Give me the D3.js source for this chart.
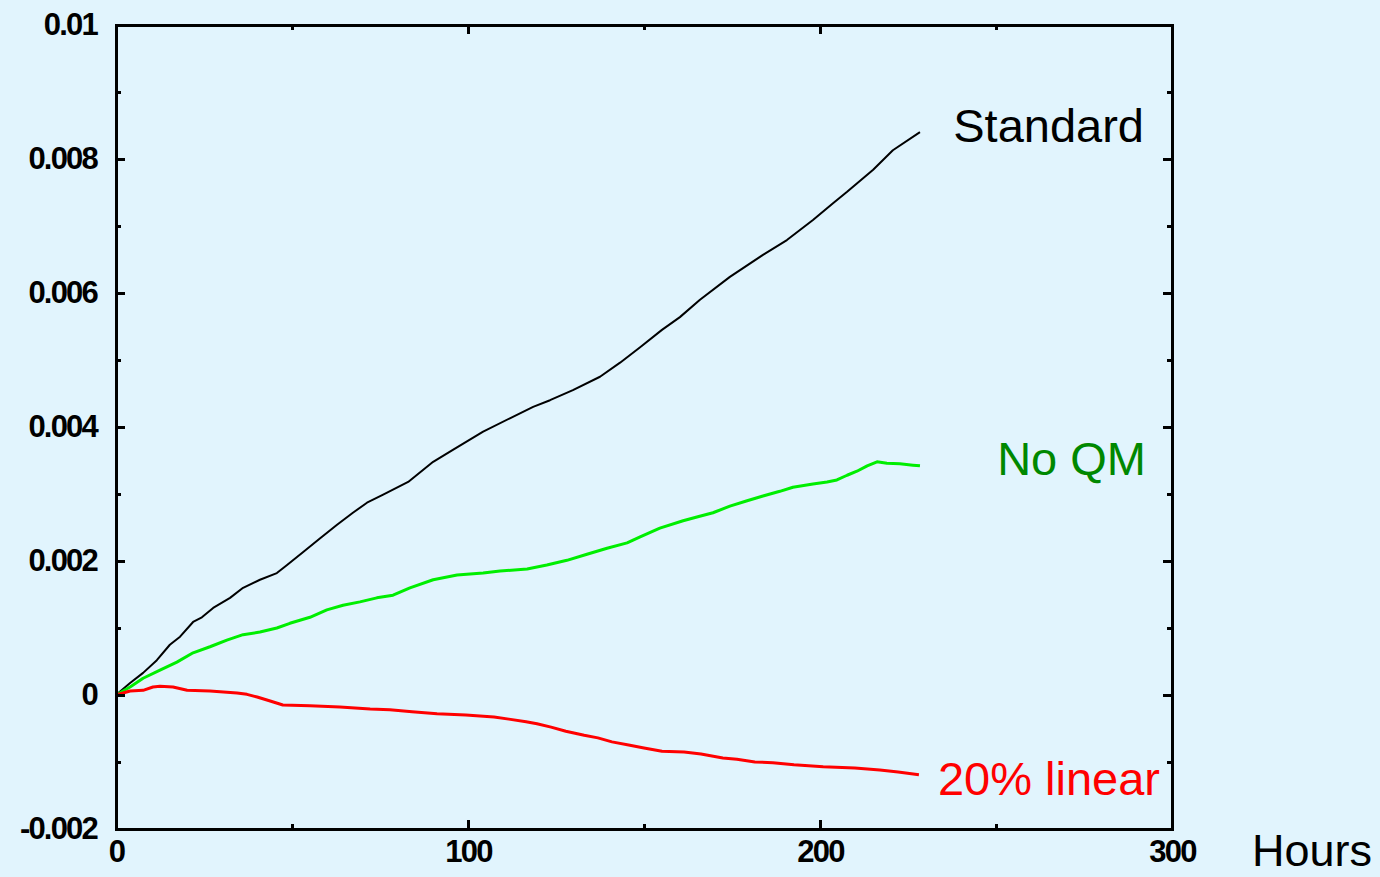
<!DOCTYPE html>
<html>
<head>
<meta charset="utf-8">
<script src="https://cdn.jsdelivr.net/npm/d3@7"></script>
<style>
  html, body { margin: 0; padding: 0; background: #e1f4fd; }
  svg { display: block; }
  .tick text { font-family: "Liberation Sans", Arial, sans-serif; font-weight: bold; font-size: 31px; letter-spacing: -1.8px; fill: #000; }
  .label { font-family: "Liberation Sans", Arial, sans-serif; font-size: 47px; }
</style>
</head>
<body>
<div id="chart"></div>
<script>
// x values (hours) and y values (x 0.001)
const standardHours  = [0, 4, 7.7, 11.6, 15.3, 18.2, 21.9, 24.4, 27.6, 32.4, 36.1, 40.9, 45.7, 48.6, 53.1, 58, 62.8, 67.3, 71.3, 75.9, 83, 90.1, 95.7, 104.3, 111.9, 118.5, 123.3, 129.8, 137.5, 143.2, 148.9, 155.1, 160.2, 165.9, 174.4, 183.8, 190.6, 198, 203.7, 207.7, 215.1, 220.7, 228.4];
const standardValues = [0, 0.18, 0.33, 0.52, 0.75, 0.87, 1.09, 1.16, 1.3, 1.45, 1.6, 1.72, 1.82, 1.94, 2.13, 2.34, 2.54, 2.72, 2.87, 2.99, 3.18, 3.48, 3.66, 3.93, 4.13, 4.3, 4.4, 4.55, 4.75, 4.96, 5.19, 5.45, 5.64, 5.9, 6.24, 6.57, 6.79, 7.09, 7.34, 7.51, 7.84, 8.13, 8.4];

const noQmHours  = [0, 4, 7.7, 12.5, 17.3, 21.9, 26.7, 31.5, 36.1, 40.9, 45.7, 49.4, 55.1, 59.9, 64.5, 69.3, 74.1, 78.7, 83.5, 90.1, 96.9, 104.3, 109.1, 116.8, 122.4, 128.1, 133.8, 139.5, 145.2, 148.9, 154.5, 161.1, 165.3, 169.6, 174.4, 179.3, 183.8, 188.6, 192.3, 198, 202, 204.8, 207.7, 210.5, 213.4, 216.2, 219, 222.7, 226.4, 228.4];
const noQmValues = [0, 0.12, 0.25, 0.37, 0.49, 0.63, 0.72, 0.82, 0.9, 0.94, 1.0, 1.07, 1.16, 1.27, 1.34, 1.39, 1.45, 1.49, 1.6, 1.72, 1.79, 1.82, 1.85, 1.88, 1.94, 2.01, 2.1, 2.19, 2.27, 2.36, 2.49, 2.6, 2.66, 2.72, 2.82, 2.9, 2.97, 3.04, 3.1, 3.15, 3.18, 3.21, 3.28, 3.34, 3.42, 3.48, 3.46, 3.45, 3.43, 3.42];

const linearHours  = [0, 4, 7.7, 10.5, 12.5, 16.2, 20.2, 26.7, 34.4, 37.2, 40.1, 43.8, 47.4, 55.1, 63.6, 72.2, 77.8, 84.1, 91.2, 99.4, 107.4, 111.6, 116.5, 119.6, 123.6, 127.8, 133, 136.9, 140.9, 146, 150, 155.1, 161.4, 166.2, 172.4, 176.4, 181.5, 186.6, 192.6, 200.9, 209.9, 217, 222.2, 228.1];
const linearValues = [0, 0.06, 0.07, 0.12, 0.13, 0.12, 0.07, 0.06, 0.03, 0.01, -0.03, -0.09, -0.15, -0.16, -0.18, -0.21, -0.22, -0.25, -0.28, -0.3, -0.33, -0.36, -0.4, -0.43, -0.48, -0.54, -0.6, -0.64, -0.7, -0.75, -0.79, -0.84, -0.85, -0.88, -0.94, -0.96, -1.0, -1.01, -1.04, -1.07, -1.09, -1.12, -1.15, -1.19];

const xTicks = [0, 100, 200, 300];
const xMinorTicks = [50, 150, 250];
const yTicks = [-0.002, 0, 0.002, 0.004, 0.006, 0.008, 0.01];
const yTickLabels = ["-0.002", "0", "0.002", "0.004", "0.006", "0.008", "0.01"];
const yMinorTicks = [-0.001, 0.001, 0.003, 0.005, 0.007, 0.009];

const series = [
  { name: "Standard",   hours: standardHours, values: standardValues, color: "#000000", width: 2, labelColor: "#000000", labelAt: 0.0085 },
  { name: "No QM",      hours: noQmHours,     values: noQmValues,     color: "#00ee00", width: 3, labelColor: "#008800", labelAt: 0.00353 },
  { name: "20% linear", hours: linearHours,   values: linearValues,   color: "#ff0000", width: 3, labelColor: "#ff0000", labelAt: -0.00124 }
];

const W = 1380, H = 877;
const margin = { top: 25, right: 208, bottom: 48, left: 116 };
const width = W - margin.left - margin.right;
const height = H - margin.top - margin.bottom;

const svg = d3.select("#chart").append("svg")
  .attr("width", W).attr("height", H);

const g = svg.append("g")
  .attr("transform", `translate(${margin.left},${margin.top})`);

const x = d3.scaleLinear().domain([0, 300]).range([0, width]);
const y = d3.scaleLinear().domain([-0.002, 0.01]).range([height, 0]);

// lines
const line = d3.line()
  .x(d => x(d[0]))
  .y(d => y(d[1] / 1000));

series.forEach(s => {
  const pts = s.hours.map((h, i) => [h, s.values[i]]);
  g.append("path")
    .datum(pts)
    .attr("fill", "none")
    .attr("stroke", s.color)
    .attr("stroke-width", s.width)
    .attr("stroke-linejoin", "round")
    .attr("d", line);
});

// axes, ticks point inward on every side
function styleAxis(sel) {
  sel.select(".domain").remove();
  sel.selectAll(".tick line").attr("stroke", "#000").attr("stroke-width", 2.5).attr("shape-rendering", "crispEdges");
}

g.append("g")
  .attr("transform", `translate(0,${height})`)
  .call(d3.axisBottom(x).tickValues(xTicks).tickSize(-9).tickPadding(11).tickFormat(d3.format("d")))
  .call(styleAxis);
g.append("g")
  .attr("transform", `translate(0,${height})`)
  .call(d3.axisBottom(x).tickValues(xMinorTicks).tickSize(-5).tickFormat(""))
  .call(styleAxis);
g.append("g")
  .call(d3.axisTop(x).tickValues(xTicks).tickSize(-9).tickFormat(""))
  .call(styleAxis);
g.append("g")
  .call(d3.axisTop(x).tickValues(xMinorTicks).tickSize(-5).tickFormat(""))
  .call(styleAxis);

g.append("g")
  .call(d3.axisLeft(y).tickValues(yTicks).tickSize(-9).tickPadding(19)
    .tickFormat((d, i) => yTickLabels[i]))
  .call(styleAxis);
g.append("g")
  .call(d3.axisLeft(y).tickValues(yMinorTicks).tickSize(-5).tickFormat(""))
  .call(styleAxis);
g.append("g")
  .attr("transform", `translate(${width},0)`)
  .call(d3.axisRight(y).tickValues(yTicks).tickSize(-9).tickFormat(""))
  .call(styleAxis);
g.append("g")
  .attr("transform", `translate(${width},0)`)
  .call(d3.axisRight(y).tickValues(yMinorTicks).tickSize(-5).tickFormat(""))
  .call(styleAxis);

g.selectAll(".tick text").attr("fill", "#000");

// frame
g.append("rect")
  .attr("x", 0).attr("y", 0)
  .attr("width", width).attr("height", height)
  .attr("fill", "none")
  .attr("stroke", "#000")
  .attr("stroke-width", 3)
  .attr("shape-rendering", "crispEdges");

// series labels
const labelRight = [x(300) - 28, x(300) - 26, x(300) - 12];
series.forEach((s, i) => {
  g.append("text").attr("class", "label")
    .attr("x", labelRight[i]).attr("y", y(s.labelAt)).attr("dy", "0.35em")
    .attr("text-anchor", "end").attr("fill", s.labelColor)
    .text(s.name);
});

// axis title
svg.append("text").attr("class", "label")
  .attr("x", 1372).attr("y", 866)
  .attr("text-anchor", "end").attr("fill", "#000")
  .style("font-size", "45px")
  .text("Hours");
</script>
</body>
</html>
